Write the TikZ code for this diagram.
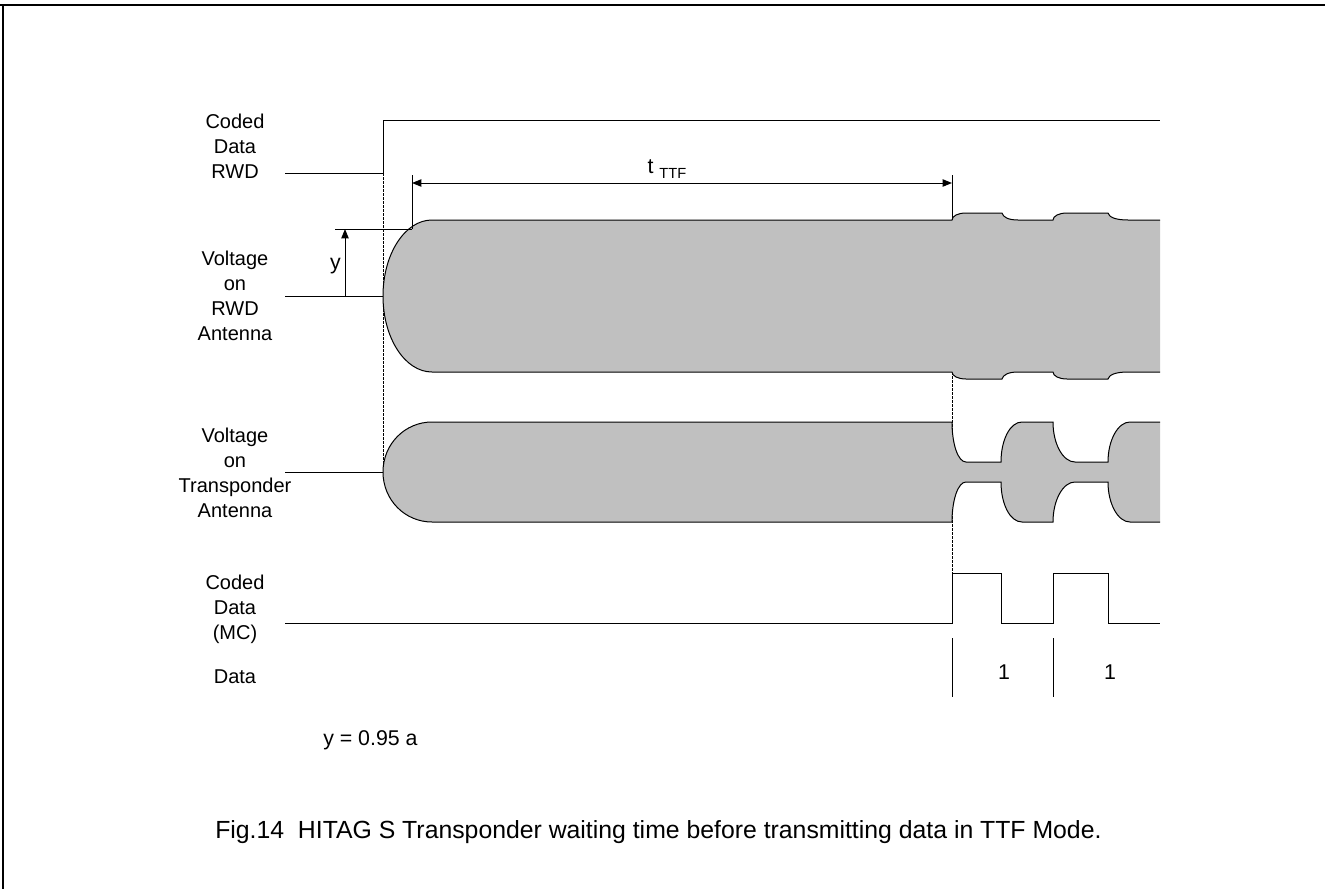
\documentclass[tikz,border=0pt]{standalone}
\usepackage{fontspec}
\setmainfont{Liberation Sans}
\usetikzlibrary{positioning,calc,arrows.meta}
\definecolor{envgray}{RGB}{192,192,192}

\begin{document}
\begin{tikzpicture}[
        x=0.75pt, y=-0.75pt, % one unit is one pixel of the sheet, y runs downwards
        % Define a style for the thin signal traces
        sig/.style={line width=0.75pt},
        % Define a style for the dashed guide lines
        guide/.style={line width=0.6pt, dash pattern=on 2pt off 1pt},
        % Define a style for the grey carrier envelopes
        envelope/.style={fill=envgray, draw=black, line width=0.75pt},
        % Define a style for the dimension arrows
        dim/.style={line width=0.75pt, -{Triangle[length=7pt,width=5.5pt]}},
        % Define a style for the signal names on the left
        siglabel/.style={align=center, inner sep=0pt, font=\fontsize{15}{18.75}\selectfont},
        % Define a style for plain text
        txt/.style={inner sep=0pt, font=\fontsize{16}{19}\selectfont}
    ]

    \useasboundingbox (0,0) rectangle (1325,889);

    % Frame of the sheet (top and left edge only)
    \draw[line width=1.5pt] (0,5) -- (1325,5);
    \draw[line width=1.5pt] (3,5) -- (3,889);

    % Signal names
    \node[siglabel] (lblcoded) at (235,146) {Coded\\Data\\RWD};
    \node[siglabel] (lblrwd) at (235,296) {Voltage\\on\\RWD\\Antenna};
    \node[siglabel] (lbltag) at (235,473) {Voltage\\on\\Transponder\\Antenna};
    \node[siglabel] (lblmc) at (235,609) {Coded\\Data\\(MC)};
    \node[siglabel] (lbldata) at (235,677) {Data};

    % Dashed guides (behind the envelopes)
    \draw[guide] (383,173) -- (383,472);
    \draw[guide] (952,372) -- (952,573);

    % Coded data of the RWD: switches the field on
    \draw[sig] (285,173) -- (383,173) -- (383,120) -- (1160,120);

    % Idle lines before the field comes up
    \draw[sig] (285,296) -- (383,296);
    \draw[sig] (285,472) -- (383,472);

    % Voltage on RWD antenna (fill closes the right edge, the stroke does not)
    \path[envelope] (1160,220) -- (1128,220)
        .. controls (1115,220) and (1109,217) .. (1108,213) -- (1067,213)
        .. controls (1059,213) and (1053,216) .. (1053,220) -- (1018,220)
        .. controls (1008,220) and (1003,217) .. (1002,213) -- (966,213)
        .. controls (958,213) and (952,216) .. (952,220)
        -- (432,220) .. controls (405,220) and (383,254) .. (383,296)
        .. controls (383,338) and (405,372) .. (432,372)
        -- (952,372) .. controls (952,376) and (958,379) .. (966,379)
        -- (1002,379) .. controls (1003,375) and (1008,372) .. (1018,372)
        -- (1053,372) .. controls (1053,376) and (1059,379) .. (1067,379)
        -- (1108,379) .. controls (1109,375) and (1115,372) .. (1128,372)
        -- (1160,372);

    % Voltage on transponder antenna
    \path[envelope] (1160,422) -- (1130,422)
        .. controls (1118,422) and (1108,440) .. (1108,462) -- (1075,462)
        .. controls (1063,462) and (1053,444) .. (1053,422) -- (1022,422)
        .. controls (1010,422) and (1001,440) .. (1001,462) -- (966,462)
        .. controls (958,462) and (952,444) .. (952,422)
        -- (432,422) .. controls (405,422) and (383,444) .. (383,472)
        .. controls (383,500) and (405,522) .. (432,522)
        -- (952,522) .. controls (952,500) and (958,482) .. (966,482)
        -- (1001,482) .. controls (1001,504) and (1010,522) .. (1022,522)
        -- (1053,522) .. controls (1053,500) and (1063,482) .. (1075,482)
        -- (1108,482) .. controls (1108,504) and (1118,522) .. (1130,522)
        -- (1160,522);

    % Waiting time t_TTF
    \coordinate (ttfstart) at (412,183);
    \coordinate (ttfend) at (952,183);
    \draw[sig] (412,175) -- (412,229);
    \draw[sig] (952,175) -- (952,220);
    \draw[dim, {Triangle[length=7pt,width=5.5pt]}-{Triangle[length=7pt,width=5.5pt]}] (ttfstart) -- (ttfend);
    \node[inner sep=0pt, font=\fontsize{16}{18}\selectfont] (ttflabel) at (667,169)
        {t\ \raisebox{-0.5ex}{\fontsize{11}{12}\selectfont TTF}};

    % Level y reached by the RWD antenna
    \coordinate (ybase) at (345,296);
    \coordinate (ytop) at (345,229);
    \draw[sig] (335,229) -- (412,229);
    \draw[dim] (ybase) -- (ytop);
    \node[siglabel, font=\fontsize{16}{18}\selectfont, left=3pt of $(ybase)!0.45!(ytop)$] (ylabel) {y};

    % Coded data of the transponder (Manchester)
    \draw[sig] (285,623) -- (952,623) -- (952,573) -- (1001,573) -- (1001,623)
        -- (1053,623) -- (1053,573) -- (1108,573) -- (1108,623) -- (1160,623);

    % Data bits
    \foreach \x in {952,1053}
        \draw[sig] (\x,638) -- (\x,697);
    \node[txt] (bitone) at (1004,672) {1};
    \node[txt] (bittwo) at (1110,672) {1};

    % Notes
    \node[txt, anchor=west] (yvalue) at (323,740) {y = 0.95 a};
    \node[txt, anchor=west, font=\fontsize{18.6}{22}\selectfont] (caption) at (215,832)
        {Fig.14\ \ HITAG S Transponder waiting time before transmitting data in TTF Mode.};

\end{tikzpicture}
\end{document}
